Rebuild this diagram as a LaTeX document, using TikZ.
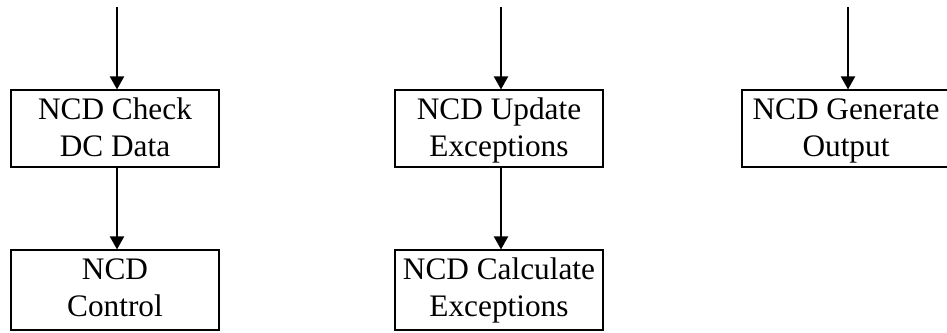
\documentclass[tikz,border=0pt]{standalone}
\usepackage{fontspec}
\setmainfont{Liberation Serif}
\usetikzlibrary{arrows.meta}
\newcommand\upstrut{\rule[-9pt]{0pt}{37pt}}
\newcommand\lowstrut{\rule[-10.5pt]{0pt}{37pt}}
\begin{document}
\begin{tikzpicture}[x=1pt,y=-1pt,
  procbox/.style={draw, line width=1.1pt, minimum width=208pt, inner sep=0pt, align=center,
    font=\fontsize{31.3pt}{37pt}\selectfont},
  upbox/.style={procbox, minimum height=77pt},
  lowbox/.style={procbox, minimum height=80pt},
  flow/.style={line width=2pt, -{Triangle[length=13pt,width=14pt]}}]
\useasboundingbox (0,0) rectangle (947,332);
% column 1
\node[upbox] (chk) at (115,128.5) {\upstrut NCD Check\\\upstrut DC Data};
\node[lowbox] (ctl) at (115,290) {\lowstrut NCD\\\lowstrut Control};
\coordinate (in1) at (117,7);
% column 2
\node[upbox] (upd) at (499,128.5) {\upstrut NCD Update\\\upstrut Exceptions};
\node[lowbox] (calc) at (499,290) {\lowstrut NCD Calculate\\\lowstrut Exceptions};
\coordinate (in2) at (501,7);
% column 3
\node[upbox] (gen) at (846,128.5) {\upstrut NCD Generate\\\upstrut Output};
\coordinate (in3) at (848,7);
% connectors
\draw[flow] (in1) -- (in1 |- chk.north);
\draw[flow] (chk.south -| in1) -- (ctl.north -| in1);
\draw[flow] (in2) -- (in2 |- upd.north);
\draw[flow] (upd.south -| in2) -- (calc.north -| in2);
\draw[flow] (in3) -- (in3 |- gen.north);
\end{tikzpicture}
\end{document}
